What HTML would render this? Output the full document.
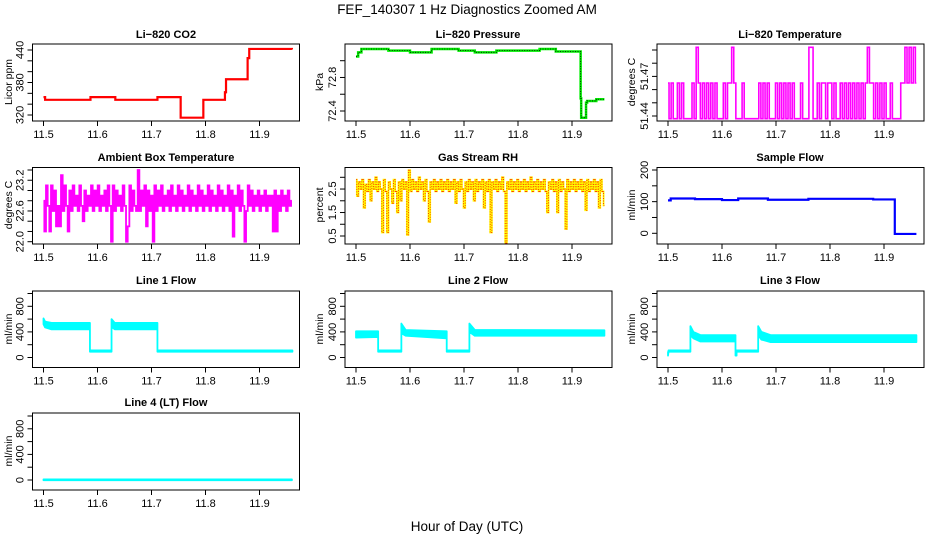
<!DOCTYPE html>
<html><head><meta charset="utf-8"><style>
html,body{margin:0;padding:0;background:#fff;}
svg{display:block;font-family:"Liberation Sans",Arial,sans-serif;}
.tt{font-weight:bold;font-size:11px;text-anchor:middle;}
.tk{font-size:11px;text-anchor:middle;}
.yl{font-size:10.5px;text-anchor:middle;}
</style></head><body>
<svg id="fig" width="936" height="540" viewBox="0 0 936 540" xmlns="http://www.w3.org/2000/svg">
<rect width="936" height="540" fill="#fff"/>
<text x="467" y="14" font-size="13.5" text-anchor="middle">FEF_140307  1 Hz Diagnostics Zoomed AM</text>
<text x="467" y="531" font-size="13.5" text-anchor="middle">Hour of Day (UTC)</text>
<text class="tt" x="166" y="38">Li−820 CO2</text>
<text class="tt" x="478" y="38">Li−820 Pressure</text>
<text class="tt" x="790" y="38">Li−820 Temperature</text>
<text class="tt" x="166" y="161">Ambient Box Temperature</text>
<text class="tt" x="478" y="161">Gas Stream RH</text>
<text class="tt" x="790" y="161">Sample Flow</text>
<text class="tt" x="166" y="284">Line 1 Flow</text>
<text class="tt" x="478" y="284">Line 2 Flow</text>
<text class="tt" x="790" y="284">Line 3 Flow</text>
<text class="tt" x="166" y="406">Line 4 (LT) Flow</text>
<text class="yl" transform="translate(12,82) rotate(-90)">Licor ppm</text>
<text class="yl" transform="translate(323,82) rotate(-90)">kPa</text>
<text class="yl" transform="translate(635,82) rotate(-90)">degrees C</text>
<text class="yl" transform="translate(12,205) rotate(-90)">degrees C</text>
<text class="yl" transform="translate(323,205) rotate(-90)">percent</text>
<text class="yl" transform="translate(635,205) rotate(-90)">ml/min</text>
<text class="yl" transform="translate(12,329) rotate(-90)">ml/min</text>
<text class="yl" transform="translate(323,329) rotate(-90)">ml/min</text>
<text class="yl" transform="translate(635,329) rotate(-90)">ml/min</text>
<text class="yl" transform="translate(12,451) rotate(-90)">ml/min</text>
</svg>
<script>
const xTicks = [11.5, 11.6, 11.7, 11.8, 11.9];
const xTickLabels = ["11.5", "11.6", "11.7", "11.8", "11.9"];

const co2T = [11.500,11.503,11.587,11.633,11.711,11.754,11.796,11.836,11.838,11.878,11.881,11.960];
const co2V = [353,348,353,348,353,315,348,362,386,425,442,441];

const presT = [11.500,11.504,11.510,11.560,11.600,11.640,11.690,11.720,11.760,11.840,11.870,11.916,11.917,11.926,11.928,11.945,11.960];
const presV = [73.05,73.10,73.14,73.12,73.10,73.14,73.12,73.10,73.12,73.14,73.11,72.55,72.32,72.50,72.52,72.54,72.54];

const tempLevels = "101"+"00"+"1010"+"000"+"1021"+"0"+"1010101"+"000"+"101121"+"000"+"1"+"0000000"+"10101"+"000"+"10"+"1010"+"1"+"01"+"000"+"1"+"000"+"22"+"00"+"101"+"101"+"101"+"00"+"101010"+"101010121"+"1010101"+"00"+"10"+"000"+"11212121";
const tempLevelValues = [51.438, 51.465, 51.492];

const ambientV = [
22.8,22.2,23.1,22.7,22.2,23.1,22.6,23.0,22.3,22.7,
22.3,23.3,22.6,23.1,22.7,22.2,23.0,22.6,23.1,22.7,
22.9,22.6,23.1,22.7,22.4,23.0,22.6,22.9,22.7,23.1,
22.6,23.0,22.7,23.1,22.6,22.9,22.7,23.0,22.6,23.1,
22.7,22.0,23.1,22.6,23.0,22.7,22.9,22.6,23.1,22.7,
22.0,22.3,23.1,22.6,23.0,22.7,22.6,23.4,22.6,23.0,
22.7,23.1,22.3,23.0,22.6,22.9,22.0,23.1,22.6,23.0,
22.7,23.1,22.6,22.9,22.7,23.0,22.6,23.1,22.7,22.9,
22.6,23.1,22.7,23.0,22.6,22.9,22.7,23.1,22.6,23.0,
22.7,22.9,22.6,23.1,22.7,23.0,22.6,22.9,22.7,23.1,
22.6,23.0,22.7,22.9,22.6,23.1,22.7,23.0,22.6,22.9,
22.7,23.1,22.6,23.0,22.1,22.9,22.7,23.1,22.6,23.0,
22.7,22.0,22.6,23.1,22.7,23.0,22.6,22.9,22.7,23.0,
22.6,22.9,22.7,23.0,22.6,22.9,22.7,22.9,22.2,23.0,
22.2,22.9,22.6,23.0,22.7,22.9,22.6,23.0,22.7,22.8];

const rhV = [
2.9,2.2,2.8,2.5,2.9,1.7,2.7,2.4,2.9,2.0,
2.8,2.5,3.0,2.4,2.8,2.5,0.65,2.9,2.4,0.65,
2.8,2.5,1.9,2.9,2.4,1.5,2.8,2.0,2.9,2.5,
2.8,0.55,3.3,2.4,2.9,2.5,2.8,2.4,3.0,2.5,
2.8,2.0,2.9,2.4,1.1,2.8,2.5,2.9,2.4,2.8,
2.5,2.9,2.4,2.8,2.5,2.9,2.4,2.8,2.5,2.9,
1.9,2.8,2.4,2.9,2.5,1.7,2.8,2.4,2.9,2.5,
2.8,2.0,2.9,2.4,2.8,2.5,2.9,1.7,2.8,2.4,
2.9,0.65,2.8,2.5,2.9,2.4,2.8,2.5,3.0,2.4,
0.2,2.8,2.5,2.9,2.4,2.8,2.5,2.9,2.4,2.8,
2.5,2.9,2.4,2.8,2.5,3.0,2.4,2.8,2.5,2.9,
2.4,2.8,2.5,2.9,2.4,1.5,2.8,2.5,2.9,2.4,
2.8,1.5,2.9,2.4,2.8,2.5,0.8,2.9,2.4,2.8,
2.5,2.9,2.4,2.8,2.5,2.9,2.4,2.8,1.6,2.9,
2.4,2.8,2.5,2.9,2.4,2.8,1.7,2.9,2.4,1.8];

const sampT = [11.500,11.505,11.550,11.600,11.630,11.685,11.760,11.880,11.920,11.960];
const sampV = [104,110,108,105,110,106,109,107,-2,-2];

const line1T  = [11.500,11.503,11.515,11.586,11.586,11.626,11.626,11.632,11.711,11.711,11.961];
const line1Hi = [610,560,540,540,110,110,600,540,540,110,110];
const line1Lo = [520,470,440,440,90,90,480,440,440,90,90];

const line2T  = [11.500,11.541,11.541,11.584,11.584,11.592,11.668,11.668,11.710,11.710,11.720,11.960];
const line2Hi = [410,410,110,110,530,430,410,110,110,530,430,425];
const line2Lo = [310,320,90,90,380,340,300,90,90,400,340,340];

const line3T  = [11.500,11.501,11.501,11.5415,11.5415,11.547,11.560,11.625,11.625,11.627,11.627,11.667,11.667,11.673,11.690,11.960];
const line3Hi = [80,110,110,110,490,400,350,350,110,110,110,110,490,400,350,350];
const line3Lo = [30,90,90,90,350,300,250,250,30,30,90,90,350,280,240,240];

const line4T  = [11.500,11.960];
const line4Hi = [10,10];
const line4Lo = [-3,-3];

const flowTicks = [0,200,400,600,800,1000];
const flowLabels = ["0","","400","","800",""];

const NS = "http://www.w3.org/2000/svg";
const svg = document.getElementById("fig");
const colTick0 = [43.5, 356, 668];
const rowTop = [44, 167.5, 291, 413];
const rowBot = [121, 244, 367.5, 490];
const PXU = 540;

function mk(tag, attrs, parent) {
  const e = document.createElementNS(NS, tag);
  for (const k in attrs) e.setAttribute(k, attrs[k]);
  (parent || svg).appendChild(e);
  return e;
}

function makePanel(name, col, row, yv0, yp0, yv1, yp1, ticks, labels) {
  const g = mk("g", {});
  
  
  const t0 = colTick0[col];
  const left = t0 - 11, right = t0 + 256, top = rowTop[row], bot = rowBot[row];
  const X = v => t0 + (v - 11.5) * PXU;
  const Y = v => yp0 + (v - yv0) * (yp1 - yp0) / (yv1 - yv0);
  const clipId = "clip-" + name;
  const cp = mk("clipPath", {id: clipId}, g);
  mk("rect", {x: left, y: top, width: right - left, height: bot - top}, cp);
  const plot = mk("g", {"clip-path": "url(#" + clipId + ")"}, g);
  
  
  const box = mk("rect", {x: left, y: top, width: right - left, height: bot - top, fill: "none", stroke: "#000", "stroke-width": 1}, g);
  
  
  const xa = mk("g", {}, g);
  
  
  mk("line", {x1: X(xTicks[0]), x2: X(xTicks[xTicks.length - 1]), y1: bot, y2: bot, stroke: "#000"}, xa);
  xTicks.forEach((v, i) => {
    mk("line", {x1: X(v), x2: X(v), y1: bot, y2: bot + 5, stroke: "#000"}, xa);
    const t = mk("text", {x: X(v), y: bot + 17, class: "tk"}, xa);
    t.textContent = xTickLabels[i];
  });
  const ya = mk("g", {}, g);
  
  
  mk("line", {x1: left, x2: left, y1: Y(ticks[0]), y2: Y(ticks[ticks.length - 1]), stroke: "#000"}, ya);
  ticks.forEach((v, i) => {
    mk("line", {x1: left - 5, x2: left, y1: Y(v), y2: Y(v), stroke: "#000"}, ya);
    if (labels[i]) {
      const t = mk("text", {class: "tk", transform: "translate(" + (left - 9) + "," + Y(v) + ") rotate(-90)"}, ya);
      t.textContent = labels[i];
    }
  });
  return {X, Y, plot};
}

function stepPath(p, T, V) {
  let d = "M" + p.X(T[0]) + "," + p.Y(V[0]);
  for (let i = 1; i < T.length; i++) d += " H" + p.X(T[i]) + " V" + p.Y(V[i]);
  return d;
}
function seriesPath(p, V, t0, t1) {
  let d = "";
  V.forEach((v, i) => {
    const t = t0 + (t1 - t0) * i / (V.length - 1);
    d += (i ? " L" : "M") + p.X(t).toFixed(2) + "," + p.Y(v).toFixed(2);
  });
  return d;
}
// vertical segments between consecutive values -> dense "filled" look like 1 Hz data
function denseLines(p, V, t0, t1) {
  let d = "";
  for (let i = 0; i < V.length - 1; i++) {
    const xa = p.X(t0 + (t1 - t0) * i / (V.length - 1));
    const xb = p.X(t0 + (t1 - t0) * (i + 1) / (V.length - 1));
    const xm = ((xa + xb) / 2).toFixed(2);
    d += "M" + xa.toFixed(2) + "," + p.Y(V[i]).toFixed(2) + " H" + xm + " V" + p.Y(V[i + 1]).toFixed(2) + " H" + xb.toFixed(2) + " ";
  }
  return d;
}
function bandPath(p, T, Hi, Lo) {
  let d = "";
  T.forEach((t, i) => { d += (i ? " L" : "M") + p.X(t) + "," + p.Y(Hi[i]); });
  for (let i = T.length - 1; i >= 0; i--) d += " L" + p.X(T[i]) + "," + p.Y(Lo[i]);
  return d + " Z";
}

let p = makePanel("co2", 0, 0, 320, 115, 440, 50, [320,340,360,380,400,420,440], ["320","","","380","","","440"]);
let s = mk("path", {d: stepPath(p, co2T, co2V), fill: "none", stroke: "#ff0000", "stroke-width": 2.2}, p.plot);



p = makePanel("pressure", 1, 0, 72.4, 111, 73.0, 60.7, [72.4,72.6,72.8,73.0], ["72.4","","72.8",""]);
s = mk("path", {d: stepPath(p, presT, presV), fill: "none", stroke: "#00ee00", "stroke-width": 2.5}, p.plot);


s = mk("path", {d: stepPath(p, presT, presV), fill: "none", stroke: "#000", "stroke-width": 0.8, "stroke-dasharray": "1,1.5"}, p.plot);



p = makePanel("temperature", 2, 0, 51.44, 116, 51.49, 50, [51.44,51.45,51.46,51.47,51.48,51.49], ["51.44","","","51.47","",""]);
const tempV = tempLevels.split("").map(c => tempLevelValues[+c]);
s = mk("path", {d: denseLines(p, tempV, 11.5, 11.96), fill: "none", stroke: "#ff00ff", "stroke-width": 1.6}, p.plot);



p = makePanel("ambient", 0, 1, 22.0, 241.7, 23.4, 170, [22.0,22.2,22.4,22.6,22.8,23.0,23.2,23.4], ["22.0","","","22.6","","","23.2",""]);
s = mk("path", {d: denseLines(p, ambientV, 11.5, 11.96), fill: "none", stroke: "#ff00ff", "stroke-width": 1.8}, p.plot);



p = makePanel("rh", 1, 1, 0.5, 236, 3.0, 177.3, [0.5,1.0,1.5,2.0,2.5,3.0], ["0.5","","1.5","","2.5",""]);
s = mk("path", {d: denseLines(p, rhV, 11.5, 11.96), fill: "none", stroke: "#ffff00", "stroke-width": 1.8}, p.plot);


s = mk("path", {d: denseLines(p, rhV, 11.5, 11.96), fill: "none", stroke: "#ff2000", "stroke-width": 0.9, "stroke-dasharray": "1,1.5"}, p.plot);



p = makePanel("sample-flow", 2, 1, 0, 233.3, 200, 170, [0,50,100,150,200], ["0","","100","","200"]);
s = mk("path", {d: stepPath(p, sampT, sampV), fill: "none", stroke: "#0000ff", "stroke-width": 2.2}, p.plot);



const flowDefs = [["line1", 0, 2, line1T, line1Hi, line1Lo], ["line2", 1, 2, line2T, line2Hi, line2Lo], ["line3", 2, 2, line3T, line3Hi, line3Lo], ["line4", 0, 3, line4T, line4Hi, line4Lo]];
flowDefs.forEach(fd => {
  const r = fd[2];
  const q = makePanel(fd[0], fd[1], r, 0, rowBot[r] - 10, 1000, rowBot[r] - 74, flowTicks, flowLabels);
  const b = mk("path", {d: bandPath(q, fd[3], fd[4], fd[5]), fill: "#00ffff", stroke: "#00ffff", "stroke-width": 1.8, "stroke-linejoin": "round"}, q.plot);
  
  
});
</script>
</body></html>
